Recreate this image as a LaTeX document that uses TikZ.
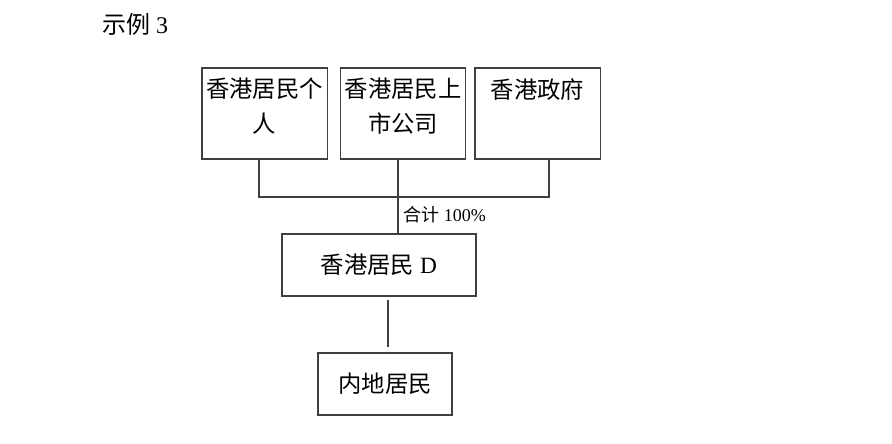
\documentclass[tikz,border=0pt]{standalone}
\usepackage{fontspec}
\setmainfont{Liberation Serif}
\newfontfamily\cjk{Noto Sans CJK SC}
\usetikzlibrary{calc}
\definecolor{linegray}{HTML}{404040}
% text of the upper boxes, set at the top
\newcommand{\boxtext}[1]{\parbox[t][66pt][t]{92pt}{\centering\fontsize{17.5pt}{26pt}\selectfont\vspace*{6.5pt}#1}}

\begin{document}
\begin{tikzpicture}
	[x=0.75pt,y=-0.75pt,
	 box/.style={draw=linegray,line width=1pt,inner sep=0pt},
	 topbox/.style={box,minimum width=94pt,minimum height=68.25pt},
	 lowbox/.style={box,minimum height=46.5pt,font=\fontsize{17.5pt}{20pt}\selectfont},
	 conn/.style={draw=linegray,line width=1pt}]
	\useasboundingbox (0,0) rectangle (892,443);
	% title
	\node[font=\fontsize{18pt}{20pt}\selectfont] (title) at (135,24) {{\cjk 示例} 3};
	% shareholders
	\node[topbox] (pers) at (264.5,113.5) {\boxtext{\cjk 香港居民个\\人}};
	\node[topbox] (corp) at (403,113.5) {\boxtext{\cjk 香港居民上\\市公司}};
	\node[topbox] (gov) at (537.5,113.5) {\boxtext{\cjk 香港政府}};
	% resident and mainland
	\node[lowbox,minimum width=145.5pt] (resd) at (379,265) {{\cjk 香港居民} D};
	\node[lowbox,minimum width=100.5pt] (main) at (385,384) {\cjk 内地居民};
	% connectors
	\coordinate (join) at (398,197);
	\draw[conn] ($(pers.south)+(-5.5,0)$) |- (join) -| ($(gov.south)+(11.5,0)$);
	\draw[conn] ($(corp.south)+(-5,0)$) -- (join |- resd.north);
	\coordinate (dstem) at ($(resd.south)+(9,0)$);
	\draw[conn,shorten <=2.25pt,shorten >=3.75pt] (dstem) -- (dstem |- main.north);
	% share label
	\node[anchor=west,inner sep=0pt,font=\fontsize{13.5pt}{15pt}\selectfont] (total) at (403,215) {{\cjk 合计} 100\%};
\end{tikzpicture}
\end{document}
